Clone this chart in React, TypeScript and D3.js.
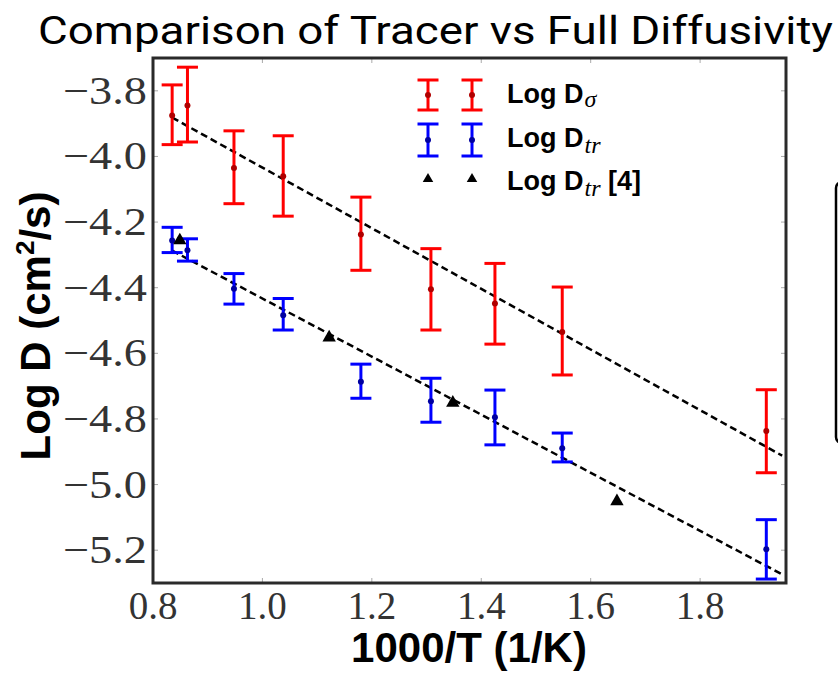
import React from "react";
import * as d3 from "d3";

// ---- data ----
const invT = [0.835, 0.863, 0.948, 1.038, 1.18, 1.308, 1.425, 1.548, 1.921];
const sigmaMean = [-3.875, -3.845, -4.035, -4.06, -4.238, -4.405, -4.448, -4.535, -4.837];
const sigmaHigh = [-3.782, -3.728, -3.922, -3.937, -4.124, -4.281, -4.326, -4.398, -4.711];
const sigmaLow = [-3.964, -3.956, -4.144, -4.182, -4.347, -4.529, -4.572, -4.666, -4.964];
const trMean = [-4.256, -4.286, -4.403, -4.484, -4.687, -4.746, -4.795, -4.889, -5.197];
const trHigh = [-4.216, -4.251, -4.357, -4.433, -4.633, -4.676, -4.712, -4.843, -5.107];
const trLow = [-4.293, -4.319, -4.45, -4.529, -4.737, -4.81, -4.879, -4.931, -5.288];
const refX = [0.849, 1.122, 1.348, 1.648];
const refY = [-4.256, -4.552, -4.751, -5.051];
// fitted lines: [intercept, slope]
const sigmaFit = [-3.11, -0.924];
const trFit = [-3.548, -0.885];
const fitRange = [0.835, 1.95];
const xTicks = [0.8, 1.0, 1.2, 1.4, 1.6, 1.8];
const yTicks = [-3.8, -4.0, -4.2, -4.4, -4.6, -4.8, -5.0, -5.2];

const RED = "#ff0000";
const BLUE = "#0000ff";

const W = 838;
const H = 674;
const L = 153, R = 786, T = 58, B = 583;

export default function App() {
  const x = d3.scaleLinear().domain([0.8, 1.957]).range([L, R]);
  const y = d3.scaleLinear().domain([-5.3, -3.7]).range([B, T]);
  const fmt = d3.format(".1f");
  const fitLine = (f: number[]) =>
    d3.line<number>().x((d) => x(d)).y((d) => y(f[0] + f[1] * d))(fitRange) || "";
  const tri = d3.symbol().type(d3.symbolTriangle).size(78)() || "";
  const triSmall = d3.symbol().type(d3.symbolTriangle).size(48)() || "";
  const cap = 10.5;

  const errBars = (mean: number[], hi: number[], lo: number[], color: string, dot: string) =>
    invT.map((v, i) => (
      <g key={i} stroke={color} strokeWidth={3}>
        <line x1={x(v)} x2={x(v)} y1={y(hi[i])} y2={y(lo[i])} />
        <line x1={x(v) - cap} x2={x(v) + cap} y1={y(hi[i])} y2={y(hi[i])} />
        <line x1={x(v) - cap} x2={x(v) + cap} y1={y(lo[i])} y2={y(lo[i])} />
        <circle cx={x(v)} cy={y(mean[i])} r={3} fill={dot} stroke="none" />
      </g>
    ));

  const legendBar = (cx: number, cy: number, color: string, dot: string, half: number) => (
    <g stroke={color} strokeWidth={3}>
      <line x1={cx} x2={cx} y1={cy - half} y2={cy + half} />
      <line x1={cx - cap} x2={cx + cap} y1={cy - half} y2={cy - half} />
      <line x1={cx - cap} x2={cx + cap} y1={cy + half} y2={cy + half} />
      <circle cx={cx} cy={cy} r={3} fill={dot} stroke="none" />
    </g>
  );

  const legX = [428, 472];
  const subStyle = {
    fontFamily: "'Liberation Serif', serif",
    fontStyle: "italic" as const,
    fontWeight: "normal" as const,
    fontSize: 24,
  };

  return (
    <svg
      width={W}
      height={H}
      style={{ position: "absolute", left: 0, top: 0, background: "#fff" }}
    >
      <rect x={0} y={0} width={W} height={H} fill="#fff" />
      {/* title */}
      <text
        x={38}
        y={44}
        fontFamily="'Liberation Sans Narrow', 'Roboto', 'Liberation Sans', sans-serif"
        fontSize={39}
        textLength={795}
        lengthAdjust="spacingAndGlyphs"
        fill="#000"
      >
        Comparison of Tracer vs Full Diffusivity
      </text>

      {/* partial box at right edge */}
      <rect x={836} y={182} width={60} height={261} rx={6} fill="none" stroke="#000" strokeWidth={2.5} />

      {/* ticks on all four sides (inward) */}
      <g stroke="#aaa" strokeWidth={1}>
        {xTicks.map((t) => (
          <g key={"xt" + t}>
            <line x1={x(t)} x2={x(t)} y1={B} y2={B - 5} />
            <line x1={x(t)} x2={x(t)} y1={T} y2={T + 5} />
          </g>
        ))}
        {yTicks.map((t) => (
          <g key={"yt" + t}>
            <line x1={L} x2={L + 5} y1={y(t)} y2={y(t)} />
            <line x1={R} x2={R - 5} y1={y(t)} y2={y(t)} />
          </g>
        ))}
      </g>

      {/* tick labels */}
      <g fontFamily="'Liberation Serif', 'DejaVu Serif', serif" fontSize={39} fill="#333">
        {xTicks.map((t) => (
          <text key={"xl" + t} x={x(t)} y={619} textAnchor="middle">
            {fmt(t)}
          </text>
        ))}
        {yTicks.map((t) => (
          <text
            key={"yl" + t}
            x={63}
            y={y(t) + 13}
            textLength={84}
            lengthAdjust="spacingAndGlyphs"
          >
            {fmt(t)}
          </text>
        ))}
      </g>

      {/* axis titles */}
      <text
        x={469}
        y={662}
        textAnchor="middle"
        fontFamily="'Liberation Sans', Arial, sans-serif"
        fontWeight="bold"
        fontSize={42}
        fill="#000"
      >
        1000/T (1/K)
      </text>
      <text
        transform="translate(50,326) rotate(-90)"
        textAnchor="middle"
        fontFamily="'Liberation Sans', Arial, sans-serif"
        fontWeight="bold"
        fontSize={42}
        fill="#000"
      >
        Log D (cm
        <tspan fontSize={26} dy={-16}>2</tspan>
        <tspan dy={16}>/s)</tspan>
      </text>

      {/* fit lines */}
      <path d={fitLine(sigmaFit)} fill="none" stroke="#000" strokeWidth={2.5} strokeDasharray="7,4" />
      <path d={fitLine(trFit)} fill="none" stroke="#000" strokeWidth={2.5} strokeDasharray="7,4" />

      {/* error bars */}
      {errBars(sigmaMean, sigmaHigh, sigmaLow, RED, "#b00000")}
      {errBars(trMean, trHigh, trLow, BLUE, "#0000a0")}

      {/* reference triangles */}
      {refX.map((v, i) => (
        <path key={"r" + i} d={tri} transform={`translate(${x(v)},${y(refY[i])})`} fill="#000" />
      ))}

      {/* frame */}
      <rect x={L} y={T} width={R - L} height={B - T} fill="none" stroke="#2a2a2a" strokeWidth={3} />

      {/* legend */}
      {legX.map((lx) => (
        <g key={"lg" + lx}>
          {legendBar(lx, 95, RED, "#b00000", 15)}
          {legendBar(lx, 140, BLUE, "#0000a0", 16)}
          <path d={triSmall} transform={`translate(${lx},179)`} fill="#000" />
        </g>
      ))}
      <g fontFamily="'Liberation Sans', Arial, sans-serif" fontWeight="bold" fontSize={27} fill="#000">
        <text x={507} y={103}>
          Log D
          <tspan dx={1} dy={4} style={subStyle}>σ</tspan>
        </text>
        <text x={507} y={147}>
          Log D
          <tspan dx={1} dy={6} style={subStyle}>tr</tspan>
        </text>
        <text x={507} y={190}>
          Log D
          <tspan dx={1} dy={6} style={subStyle}>tr</tspan>
          <tspan dy={-6}> [4]</tspan>
        </text>
      </g>
    </svg>
  );
}
